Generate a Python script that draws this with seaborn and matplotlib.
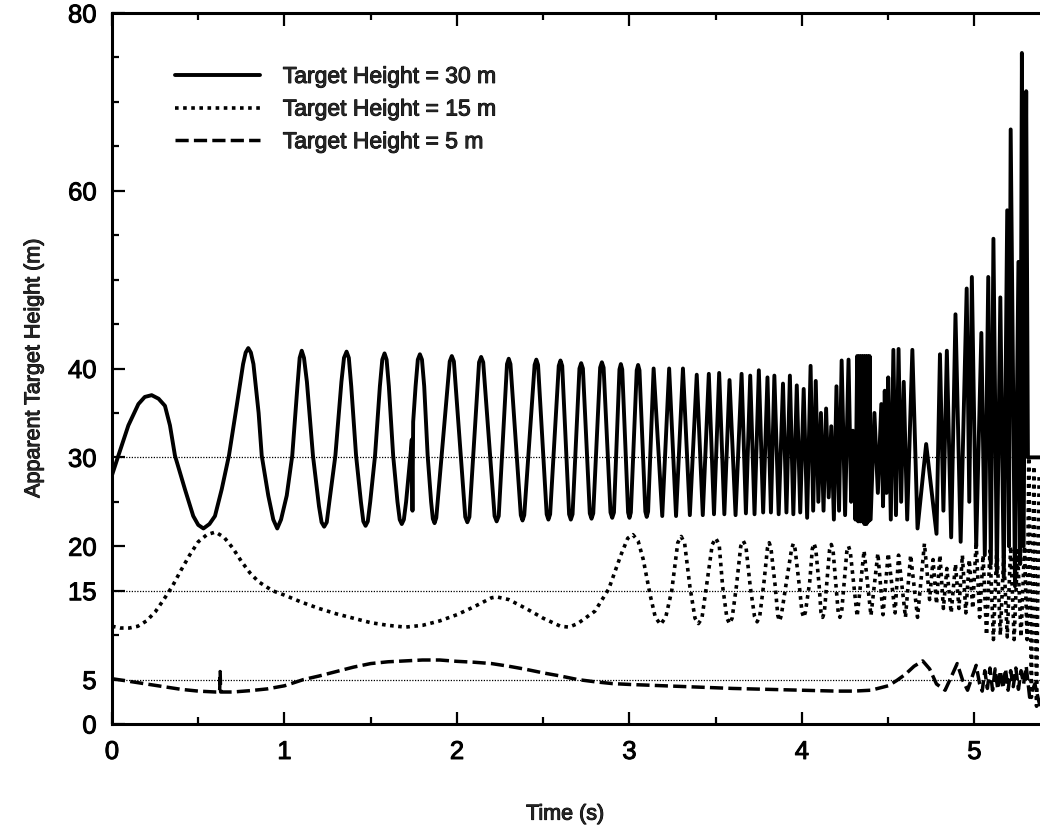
import numpy as np
import pandas as pd
import matplotlib
matplotlib.use("Agg")
import matplotlib.pyplot as plt
import matplotlib.patheffects as pe
import seaborn as sns
from matplotlib.lines import Line2D
from matplotlib.ticker import FixedLocator, MultipleLocator

# ---------------- data ----------------
solid_t = [0.000, 0.037, 0.095, 0.153, 0.190, 0.230, 0.270, 0.307, 0.336, 0.365,
           0.423, 0.471, 0.500, 0.530, 0.565, 0.597, 0.636, 0.678, 0.723, 0.760,
           0.775, 0.790, 0.805, 0.820, 0.850, 0.868, 0.906, 0.935, 0.958, 0.980,
           1.013, 1.045, 1.075, 1.088, 1.100, 1.113, 1.130, 1.165, 1.200, 1.215,
           1.230, 1.245, 1.260, 1.295, 1.330, 1.345, 1.360, 1.373, 1.387, 1.415,
           1.443, 1.457, 1.470, 1.483, 1.497, 1.525, 1.553, 1.567, 1.580, 1.592,
           1.605, 1.630, 1.655, 1.668, 1.680, 1.692, 1.705, 1.730, 1.738, 1.742,
           1.746, 1.760, 1.773, 1.785, 1.797, 1.810, 1.830, 1.850, 1.860, 1.870,
           1.880, 1.958, 1.970, 1.982, 2.048, 2.060, 2.072, 2.128, 2.140, 2.152,
           2.218, 2.230, 2.242, 2.290, 2.300, 2.310, 2.370, 2.380, 2.390, 2.450,
           2.460, 2.470, 2.520, 2.530, 2.540, 2.590, 2.600, 2.610, 2.650, 2.660,
           2.670, 2.710, 2.720, 2.730, 2.770, 2.780, 2.790, 2.830, 2.840, 2.850,
           2.890, 2.900, 2.910, 2.942, 2.950, 2.958, 2.992, 3.000, 3.008, 3.042,
           3.050, 3.058, 3.092, 3.100, 3.108,
           3.14, 3.19, 3.23, 3.27, 3.31, 3.35, 3.39, 3.425, 3.46, 3.49,
           3.52, 3.55, 3.58, 3.615, 3.65, 3.675, 3.70, 3.725, 3.75, 3.775,
           3.80, 3.82, 3.84, 3.865, 3.89, 3.91, 3.93, 3.95, 3.97, 3.99,
           4.01, 4.03, 4.05, 4.065, 4.08, 4.095, 4.11, 4.125, 4.14, 4.155,
           4.17, 4.185, 4.20, 4.215, 4.23, 4.25, 4.27, 4.285, 4.295, 4.31,
           4.32, 4.326, 4.332, 4.338, 4.344, 4.350, 4.356, 4.362, 4.368, 4.374,
           4.380, 4.386, 4.392, 4.398, 4.42, 4.44, 4.46, 4.47, 4.48, 4.49,
           4.50, 4.515, 4.53, 4.545, 4.56, 4.575, 4.59, 4.61, 4.64, 4.67,
           4.72, 4.78, 4.80, 4.82, 4.84, 4.865, 4.89, 4.92, 4.955, 4.97,
           4.985, 5.01, 5.04, 5.06, 5.08, 5.095, 5.11, 5.13, 5.15, 5.17,
           5.19, 5.20, 5.21, 5.235, 5.255, 5.265, 5.275, 5.285, 5.30, 5.31,
           5.38]
solid_v = [28.0, 30.2, 33.6, 36.0, 36.8, 37.0, 36.6, 35.8, 33.6, 30.2,
           26.4, 23.4, 22.4, 22.0, 22.5, 23.4, 26.4, 30.2, 35.8, 40.5,
           41.8, 42.3, 41.8, 40.5, 35.0, 30.2, 25.7, 23.0, 22.0, 23.0,
           25.7, 30.2, 38.0, 41.2, 42.0, 41.2, 38.5, 30.2, 24.5, 22.7,
           22.2, 22.7, 25.0, 30.2, 38.5, 41.2, 41.9, 41.2, 38.0, 30.2,
           25.0, 22.8, 22.3, 22.8, 25.0, 30.2, 38.0, 41.0, 41.7, 41.0,
           38.0, 30.2, 25.0, 23.0, 22.5, 23.0, 25.0, 30.2, 32.0, 24.0,
           34.0, 38.0, 41.0, 41.6, 41.0, 38.0, 30.2, 25.0, 23.1, 22.6,
           23.2, 40.8, 41.4, 40.8, 23.3, 22.7, 23.3, 40.7, 41.3, 40.7,
           23.4, 22.8, 23.4, 40.5, 41.1, 40.5, 23.5, 22.9, 23.5, 40.4,
           41.0, 40.4, 23.6, 23.0, 23.6, 40.3, 40.9, 40.3, 23.6, 23.0,
           23.6, 40.0, 40.6, 40.0, 23.7, 23.1, 23.7, 40.1, 40.7, 40.1,
           23.8, 23.2, 23.8, 39.9, 40.5, 39.9, 23.8, 23.2, 23.8, 39.8,
           40.4, 39.8, 23.9, 23.3, 23.9,
           40.0, 23.4, 40.0, 23.4, 40.0, 23.5, 39.3, 23.5, 39.4, 23.6,
           39.5, 23.6, 38.7, 23.5, 39.4, 23.7, 39.2, 23.6, 39.8, 23.8,
           39.0, 23.8, 39.2, 23.6, 38.3, 23.8, 39.2, 23.6, 38.1, 23.8,
           37.7, 23.2, 40.3, 24.0, 38.6, 25.0, 35.0, 24.0, 35.5, 25.5,
           33.5, 23.0, 38.0, 24.0, 40.9, 23.5, 41.0, 25.0, 33.0, 23.0,
           41.4, 22.8, 41.4, 22.8, 41.4, 22.8, 41.4, 22.5, 41.4, 22.5,
           41.4, 22.8, 41.4, 23.0, 35.0, 26.0, 36.0, 24.5, 37.5, 26.0,
           39.0, 23.0, 42.1, 23.5, 42.2, 25.0, 38.5, 23.0, 42.1, 22.0,
           31.5, 21.4, 41.6, 24.0, 42.0, 21.0, 46.1, 20.5, 49.0, 25.0,
           50.3, 20.0, 44.0, 19.0, 50.3, 18.0, 54.6, 17.0, 48.0, 16.5,
           57.8, 20.0, 66.9, 15.5, 52.0, 18.0, 75.5, 20.0, 71.2, 30.0,
           30.0]

dotted_t = [0.00, 0.05, 0.10, 0.15, 0.20, 0.25, 0.30, 0.35, 0.40, 0.45,
            0.50, 0.55, 0.60, 0.65, 0.70, 0.75, 0.80, 0.85, 0.93, 1.00,
            1.10, 1.20, 1.30, 1.40, 1.50, 1.60, 1.70, 1.80, 1.90, 2.00,
            2.10, 2.20, 2.23, 2.30, 2.40, 2.50, 2.60, 2.65, 2.70, 2.80,
            2.88, 2.95, 2.99, 3.02, 3.05, 3.08, 3.12, 3.15, 3.18, 3.21,
            3.245, 3.28, 3.30, 3.32, 3.35, 3.38, 3.40, 3.42, 3.45, 3.48,
            3.50, 3.52, 3.54, 3.565, 3.58, 3.595, 3.62, 3.645, 3.66, 3.675,
            3.70, 3.725, 3.74, 3.755, 3.78, 3.80, 3.81, 3.82, 3.845, 3.86,
            3.87, 3.88, 3.91, 3.94, 3.95, 3.96, 3.985, 4.00, 4.01, 4.02,
            4.045, 4.06, 4.07, 4.08, 4.10, 4.11, 4.12, 4.13, 4.16, 4.17,
            4.18, 4.21, 4.22, 4.23, 4.26, 4.27, 4.28, 4.32, 4.36, 4.40,
            4.44, 4.47, 4.50, 4.54, 4.56, 4.60, 4.63, 4.67, 4.71, 4.74,
            4.76, 4.78, 4.80, 4.82, 4.84, 4.865, 4.89, 4.91, 4.93, 4.95,
            4.97, 4.99, 5.01, 5.03, 5.05, 5.07, 5.09, 5.11, 5.13, 5.15,
            5.17, 5.19, 5.21, 5.23, 5.25, 5.27, 5.29, 5.305, 5.315, 5.33,
            5.345, 5.36, 5.375]
dotted_v = [11.0, 10.8, 10.8, 11.0, 11.6, 12.6, 14.0, 15.5, 17.3, 19.0,
            20.5, 21.3, 21.6, 21.0, 19.8, 18.3, 17.0, 16.0, 15.0, 14.5,
            13.7, 13.0, 12.4, 11.9, 11.4, 11.1, 10.9, 11.1, 11.6, 12.3,
            13.2, 14.2, 14.3, 14.0, 13.0, 11.9, 11.0, 10.9, 11.3, 12.7,
            15.2, 19.0, 20.9, 21.3, 20.6, 18.5, 14.5, 12.0, 11.2, 12.0,
            15.0, 20.4, 21.1, 20.3, 15.5, 11.9, 11.3, 11.9, 16.0, 20.2,
            20.9, 20.2, 15.5, 11.9, 11.3, 11.9, 15.5, 20.0, 20.6, 20.0,
            15.5, 12.1, 11.5, 12.1, 16.0, 19.8, 20.4, 19.8, 15.5, 12.2,
            11.6, 12.2, 16.0, 19.7, 20.3, 19.7, 15.5, 12.6, 12.0, 12.6,
            16.0, 19.7, 20.3, 19.7, 15.5, 12.6, 12.0, 12.6, 19.6, 20.2,
            19.6, 12.6, 12.0, 12.6, 19.4, 20.0, 19.4, 12.1, 19.5, 12.2,
            19.2, 12.3, 19.2, 12.5, 19.0, 12.0, 19.0, 12.0, 20.3, 14.0,
            18.5, 13.5, 19.0, 13.0, 17.5, 12.5, 18.0, 13.0, 19.0, 12.5,
            18.5, 13.0, 20.5, 12.0, 19.0, 10.0, 19.5, 9.5, 20.0, 10.0,
            19.0, 9.8, 20.0, 9.5, 19.5, 9.8, 20.0, 9.5, 30.0, 3.0,
            29.0, 2.0, 28.0]

dashed_t = [0.00, 0.10, 0.20, 0.30, 0.40, 0.50, 0.60, 0.624, 0.627, 0.630,
            0.70, 0.80, 0.90, 1.00, 1.11, 1.20, 1.30, 1.40, 1.50, 1.60,
            1.70, 1.80, 1.90, 2.00, 2.10, 2.20, 2.30, 2.40, 2.50, 2.60,
            2.70, 2.80, 2.90, 3.00, 3.20, 3.40, 3.60, 3.80, 4.00, 4.20,
            4.30, 4.40, 4.50, 4.55, 4.60, 4.65, 4.70, 4.74, 4.78, 4.83,
            4.87, 4.90, 4.93, 4.96, 4.99, 5.01, 5.03, 5.045, 5.06, 5.075,
            5.09, 5.105, 5.12, 5.135, 5.15, 5.165, 5.18, 5.195, 5.21, 5.225,
            5.24, 5.255, 5.27, 5.285, 5.30, 5.32, 5.35, 5.38]
dashed_v = [5.1, 4.8, 4.5, 4.2, 3.9, 3.7, 3.6, 3.6, 5.9, 3.6,
            3.6, 3.75, 3.95, 4.3, 5.0, 5.4, 5.9, 6.4, 6.8, 7.0,
            7.1, 7.2, 7.2, 7.05, 6.95, 6.8, 6.5, 6.15, 5.75, 5.4,
            5.0, 4.75, 4.55, 4.45, 4.3, 4.15, 4.0, 3.9, 3.8, 3.7,
            3.7, 3.8, 4.3, 4.9, 5.6, 6.5, 7.1, 6.2, 4.5, 3.8,
            5.5, 6.8, 5.0, 3.8, 5.5, 6.6, 4.5, 3.7, 6.0, 4.0,
            6.3, 3.8, 6.2, 3.9, 6.0, 4.0, 6.2, 3.8, 6.0, 4.2,
            6.3, 3.9, 6.0, 4.5, 6.5, 3.0, 4.5, 2.0]

series_labels = ["Target Height = 30 m", "Target Height = 15 m", "Target Height = 5 m"]
reference_levels = [30, 15, 5]
x_major_ticks = [0, 1, 2, 3, 4, 5]
y_major_ticks = [0, 5, 15, 20, 30, 40, 60, 80]
y_minor_ticks = [10, 25, 35, 45, 50, 55, 65, 70, 75]

# ---------------- figure ----------------
sns.set_style("ticks")
plt.rcParams["font.family"] = ["Liberation Sans", "DejaVu Sans"]

W, H = 1040, 828
fig = plt.figure(figsize=(W / 100, H / 100), dpi=100)
ax = fig.add_axes([112 / W, (H - 725) / H, 928 / W, (725 - 14) / H])

for lvl in reference_levels:
    ax.axhline(lvl, color="black", lw=0.9, ls=(0, (1, 1.2)), zorder=1)

solid_style = dict(color="black", lw=2.8, solid_joinstyle="round")
dotted_style = dict(color="black", lw=2.6, linestyle=(0, (1.0, 1.25)))
dashed_style = dict(color="black", lw=2.5, linestyle=(0, (3.8, 1.5)))

df_s = pd.DataFrame({"t": solid_t, "v": solid_v})
df_d = pd.DataFrame({"t": dotted_t, "v": dotted_v})
df_da = pd.DataFrame({"t": dashed_t, "v": dashed_v})

sns.lineplot(data=df_s, x="t", y="v", ax=ax, estimator=None, sort=False, zorder=3, **solid_style)
sns.lineplot(data=df_d, x="t", y="v", ax=ax, estimator=None, sort=False, zorder=3, **dotted_style)
sns.lineplot(data=df_da, x="t", y="v", ax=ax, estimator=None, sort=False, zorder=3, **dashed_style)

ax.set_xlim(0, 5.38)
ax.set_ylim(0, 80)
ax.set_xticks(x_major_ticks)
ax.set_xticklabels([str(v) for v in x_major_ticks])
ax.xaxis.set_minor_locator(MultipleLocator(0.5))
ax.set_yticks(y_major_ticks)
ax.set_yticklabels([str(v) for v in y_major_ticks])
ax.yaxis.set_minor_locator(FixedLocator(y_minor_ticks))

ax.tick_params(which="both", direction="in", top=True, right=False, width=1.6, colors="black")
ax.tick_params(which="major", length=9, labelsize=18.5)
ax.tick_params(axis="y", which="major", pad=11)
ax.tick_params(axis="x", which="major", pad=11.5)
ax.tick_params(which="minor", length=5)

for side in ["left", "top", "bottom"]:
    ax.spines[side].set_linewidth(2.2)
    ax.spines[side].set_color("black")
ax.spines["right"].set_visible(False)

ax.set_xlabel("Time (s)", fontsize=15.5)
ax.set_ylabel("Apparent Target Height (m)", fontsize=15.5)
ax.xaxis.set_label_coords(453 / 928, -0.112)
ax.yaxis.set_label_coords(-0.073, 0.5)

handles = [Line2D([], [], **solid_style),
           Line2D([], [], **dotted_style),
           Line2D([], [], **dashed_style)]
leg = ax.legend(handles, series_labels, loc="upper left", bbox_to_anchor=(0.068, 0.927),
                frameon=False, fontsize=16.5, handlelength=3.7, handletextpad=1.0,
                labelspacing=0.42, borderpad=0, borderaxespad=0)

# slightly heavier text, like the printed original
bold_fx = [pe.withStroke(linewidth=0.7, foreground="black")]
texts = list(ax.get_xticklabels()) + list(ax.get_yticklabels()) + list(leg.get_texts())
texts += [ax.xaxis.label, ax.yaxis.label]
for t in texts:
    t.set_path_effects(bold_fx)

fig.savefig("out.png", dpi=100)
